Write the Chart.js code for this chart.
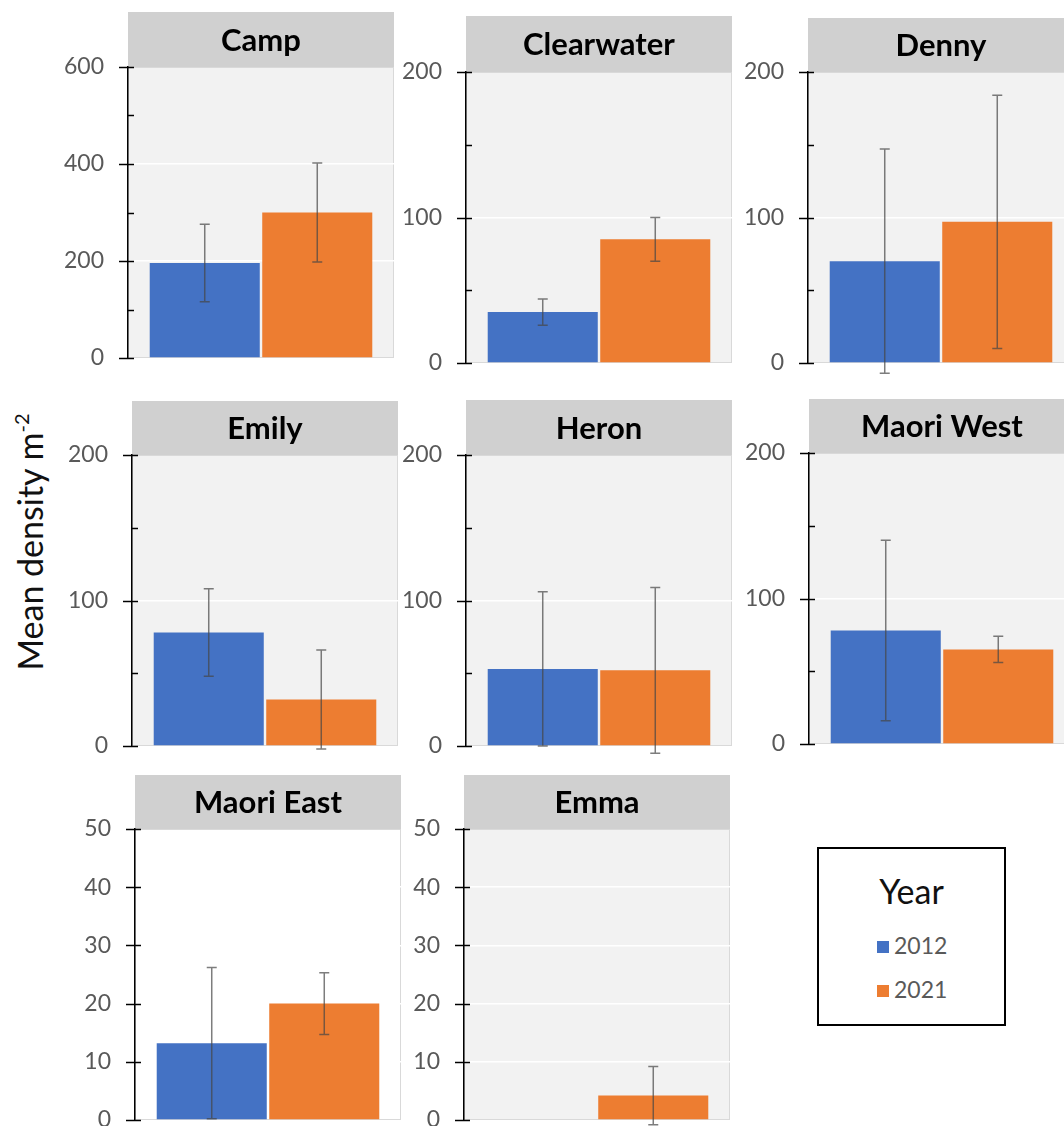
<!DOCTYPE html>
<html>
<head>
<meta charset="utf-8">
<script src="https://cdn.jsdelivr.net/npm/chart.js@4"></script>
<style>
  html,body{margin:0;padding:0;background:#fff;overflow:hidden}
  #fig{position:relative;width:1064px;height:1126px;overflow:hidden;font-family:Lato,"Open Sans",sans-serif}
  #fig canvas{position:absolute}
  #ytitle{position:absolute;left:29px;top:542px;transform:translate(-50%,-50%) rotate(-90deg);font-size:34px;white-space:nowrap;color:#111}
  #ytitle sup{font-size:20px;vertical-align:0;position:relative;top:-14px}
  #legend{position:absolute;left:817px;top:847px;width:185px;height:175px;border:2px solid #000}
  #legend .ttl{position:absolute;left:0;right:0;top:22px;text-align:center;font-size:34px;line-height:40px;color:#111}
  #legend .item{position:absolute;left:58px;font-size:23px;line-height:28px;color:#595959}
  #legend .sw{display:inline-block;width:12px;height:12px;margin-right:5px;vertical-align:1px}
</style>
</head>
<body>
<div id="fig">
  <div id="ytitle">Mean density m<sup>-2</sup></div>
  <div id="legend"><div class="ttl">Year</div></div>
</div>
<script>
// values (mean density m-2, error = half bar length)
const sites    = ['Camp','Clearwater','Denny','Emily','Heron','Maori West','Maori East','Emma'];
const years    = ['2012','2021'];
const mean2012 = [196, 35, 70, 78, 53, 78, 13.2, 0];
const mean2021 = [300, 85, 97, 32, 52, 65, 20, 4.2];
const err2012  = [80, 9, 77, 30, 53, 62, 13, 0];
const err2021  = [102, 15, 87, 34, 57, 9, 5.3, 5];
const yMax     = [600, 200, 200, 200, 200, 200, 50, 50];
const yMajor   = [200, 100, 100, 100, 100, 100, 10, 10];
const yMinor   = [100, 50, 50, 50, 50, 50, 10, 10];

const colors = ['#4472C4','#ED7D31'];

// plot-area placement of each panel (left, top of plot, top of header band)
const panelBox = [
  {x:128,y:67,h0:12},{x:466,y:72,h0:16},{x:808,y:72,h0:18},
  {x:132,y:455,h0:401},{x:466,y:455,h0:400},{x:809,y:453,h0:399},
  {x:135,y:829,h0:775},{x:464,y:829,h0:775}
];
const plotBg = ['#f2f2f2','#f2f2f2','#f2f2f2','#f2f2f2','#f2f2f2','#f2f2f2','#ffffff','#f2f2f2'];
const plotW=266, plotH=291, axisW=110, padBottom=22;

Chart.defaults.font.family = 'Lato, "Open Sans", sans-serif';

const panelDeco = {
  id:'panelDeco',
  beforeDraw(chart, args, opts){
    const {ctx, chartArea:a} = chart;
    ctx.save();
    ctx.fillStyle='#d0d0d0';
    ctx.fillRect(a.left, 0, a.right-a.left, a.top);
    ctx.fillStyle=opts.bg;
    ctx.fillRect(a.left, a.top, a.right-a.left, a.bottom-a.top);
    ctx.strokeStyle='#d9d9d9'; ctx.lineWidth=1;
    ctx.strokeRect(a.left+0.5, a.top+0.5, a.right-a.left-1, a.bottom-a.top-1);
    ctx.fillStyle='#000'; ctx.font='bold 31px Lato, "Open Sans", sans-serif';
    ctx.textAlign='center'; ctx.textBaseline='middle';
    ctx.fillText(opts.title, (a.left+a.right)/2, a.top/2+1);
    ctx.restore();
  },
  afterDatasetsDraw(chart, args, opts){
    const {ctx, chartArea:a} = chart; const ys = chart.scales.y;
    ctx.save();
    // error bars
    ctx.strokeStyle='rgba(70,70,70,0.7)'; ctx.lineWidth=1.5;
    chart.data.datasets.forEach((ds,i)=>{
      const e = ds.errors[0]; if(!e) return;
      const bar = chart.getDatasetMeta(i).data[0], m = ds.data[0];
      const top = ys.getPixelForValue(m+e), bot = ys.getPixelForValue(m-e);
      ctx.beginPath();
      ctx.moveTo(bar.x, top); ctx.lineTo(bar.x, bot);
      ctx.moveTo(bar.x-5, top); ctx.lineTo(bar.x+5, top);
      ctx.moveTo(bar.x-5, bot); ctx.lineTo(bar.x+5, bot);
      ctx.stroke();
    });
    // Excel-style tick marks: major cross the axis, minor inside only
    ctx.strokeStyle='#000'; ctx.lineWidth=1.5;
    ys.ticks.forEach(t=>{
      const y = Math.round(ys.getPixelForValue(t.value))+0.5;
      const major = t.value % opts.major === 0;
      ctx.beginPath();
      ctx.moveTo(a.left-(major?9:0), y); ctx.lineTo(a.left+6, y);
      ctx.stroke();
    });
    ctx.restore();
  }
};

const fig = document.getElementById('fig');
sites.forEach((site,i)=>{
  const b = panelBox[i];
  const cv = document.createElement('canvas');
  const headH = b.y - b.h0;
  cv.width = axisW + plotW + 1; cv.height = headH + plotH + padBottom;
  cv.style.left = (b.x-axisW)+'px'; cv.style.top = b.h0+'px';
  fig.appendChild(cv);
  new Chart(cv.getContext('2d'),{
    type:'bar',
    data:{labels:[site],datasets:[
      {label:years[0],data:[mean2012[i]],errors:[err2012[i]],backgroundColor:colors[0]},
      {label:years[1],data:[mean2021[i]],errors:[err2021[i]],backgroundColor:colors[1]}
    ]},
    options:{
      responsive:false, animation:false,
      layout:{padding:{top:headH,bottom:padBottom,left:0,right:1}},
      datasets:{bar:{categoryPercentage:0.846,barPercentage:0.978,borderWidth:0}},
      plugins:{legend:{display:false},tooltip:{enabled:false},title:{display:false},
        panelDeco:{title:site,bg:plotBg[i],major:yMajor[i]}},
      scales:{
        x:{display:false},
        y:{min:0,max:yMax[i],
          afterFit(s){ s.width = axisW; s.paddingTop = 0; s.paddingBottom = 0; },
          ticks:{stepSize:yMinor[i],padding:24,color:'#595959',font:{size:23},
            callback:v=> v % yMajor[i] === 0 ? v : ''},
          grid:{drawTicks:false,lineWidth:1.5,
            color:c=> (c.tick && c.tick.value % yMajor[i]===0 && c.tick.value>0 && c.tick.value<yMax[i]) ? '#ffffff' : 'rgba(0,0,0,0)'},
          border:{display:true,color:'#000',width:1.5}
        }
      }
    },
    plugins:[panelDeco]
  });
});

// legend
const leg = document.getElementById('legend');
years.forEach((yr,k)=>{
  const d = document.createElement('div');
  d.className='item'; d.style.top = (82+k*44)+'px';
  d.innerHTML = `<span class="sw" style="background:${colors[k]}"></span>${yr}`;
  leg.appendChild(d);
});
</script>
</body>
</html>
